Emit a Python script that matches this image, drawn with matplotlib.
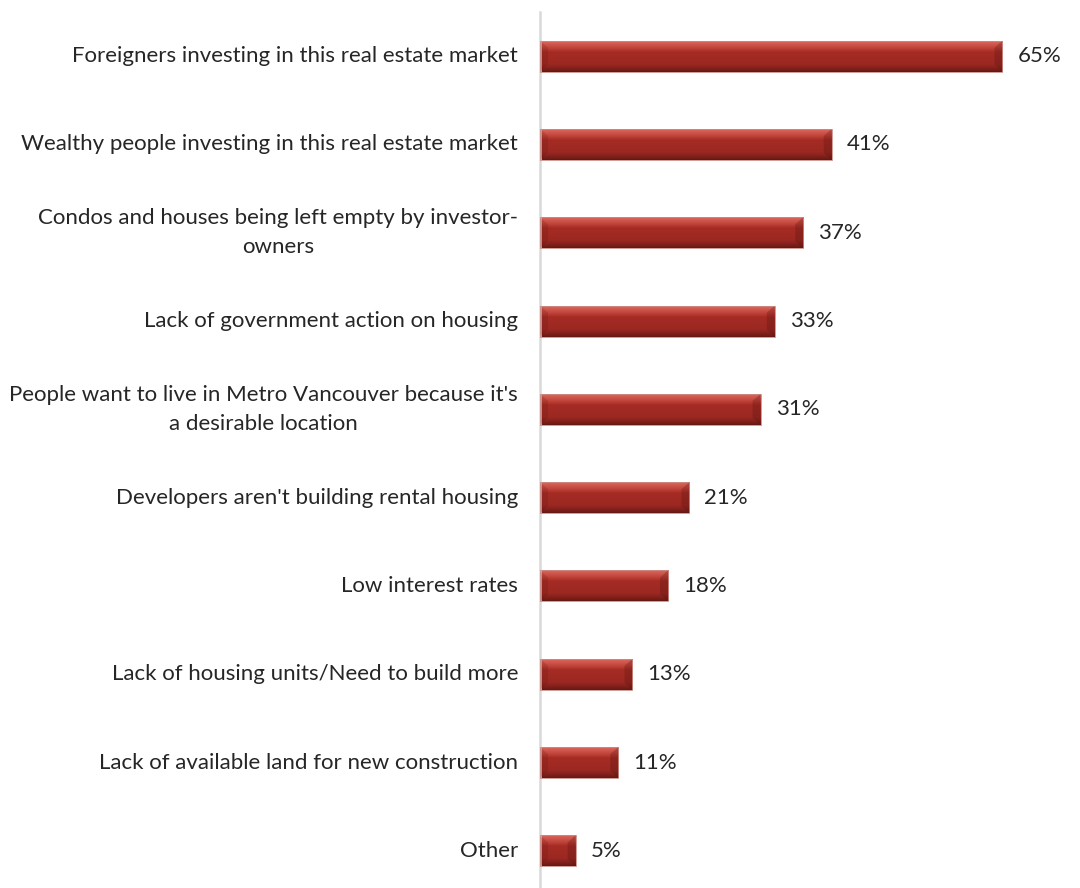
import numpy as np
import matplotlib.pyplot as plt
from matplotlib.colors import LinearSegmentedColormap
from matplotlib.patches import Polygon

categories = [
    "Foreigners investing in this real estate market",
    "Wealthy people investing in this real estate market",
    "Condos and houses being left empty by investor-\nowners",
    "Lack of government action on housing",
    "People want to live in Metro Vancouver because it's\na desirable location",
    "Developers aren't building rental housing",
    "Low interest rates",
    "Lack of housing units/Need to build more",
    "Lack of available land for new construction",
    "Other",
]
values = [65, 41, 37, 33, 31, 21, 18, 13, 11, 5]

BAR_H = 0.35
# top-to-bottom shading of a bar face
shade = LinearSegmentedColormap.from_list(
    "bar_shade",
    [(0.0, "#DA675D"), (0.22, "#C0433A"), (0.35, "#A52C25"),
     (0.75, "#9C2822"), (0.88, "#85211C"), (1.0, "#651813")])


def bevel_bar(ax, y, w, bx, by):
    y0, y1 = y - BAR_H / 2, y + BAR_H / 2  # y axis inverted: y0 is the top edge
    bx = min(bx, w / 2)
    grad = np.linspace(0, 1, 64).reshape(-1, 1)
    ax.imshow(grad, cmap=shade, aspect="auto", extent=(0, w, y1, y0),
              origin="upper", interpolation="bilinear", zorder=2)
    ax.add_patch(Polygon([(0, y0), (bx, y0 + by), (bx, y1 - by), (0, y1)],
                         closed=True, facecolor="#5A140F", alpha=0.18,
                         edgecolor="none", zorder=3))
    ax.add_patch(Polygon([(w, y0), (w - bx, y0 + by), (w - bx, y1 - by), (w, y1)],
                         closed=True, facecolor="#5A140F", alpha=0.3,
                         edgecolor="none", zorder=3))
    ax.add_patch(Polygon([(0, y0), (w, y0), (w, y1), (0, y1)], closed=True,
                         facecolor="none", edgecolor="#C98C86", linewidth=0.6,
                         zorder=4))


def main():
    plt.rcParams['font.family'] = ['Lato', 'DejaVu Sans']
    fig = plt.figure(figsize=(10.8, 8.88), dpi=100)
    ax = fig.add_axes([540 / 1080, -7 / 888, 498 / 1080, 883 / 888])

    px_x = 70 / 498
    px_y = 10 / 883
    for i, v in enumerate(values):
        bevel_bar(ax, i, v, 8 * px_x, 7 * px_y)
        ax.text(v + 15 * px_x, i, f"{v}%", va="center", ha="left", fontsize=16,
                color="#262626")
        ax.text(-22 * px_x, i, categories[i], va="center", ha="right",
                multialignment="center", fontsize=16, color="#262626",
                linespacing=1.55)

    ax.set_xlim(0, 70)
    ax.set_ylim(len(values) - 0.5, -0.5)
    for s in ["top", "right", "bottom"]:
        ax.spines[s].set_visible(False)
    ax.spines["left"].set_color("#D9D9D9")
    ax.spines["left"].set_linewidth(1.8)
    ax.set_xticks([])
    ax.set_yticks([])
    fig.savefig("out.png", dpi=100)


if __name__ == "__main__":
    main()
